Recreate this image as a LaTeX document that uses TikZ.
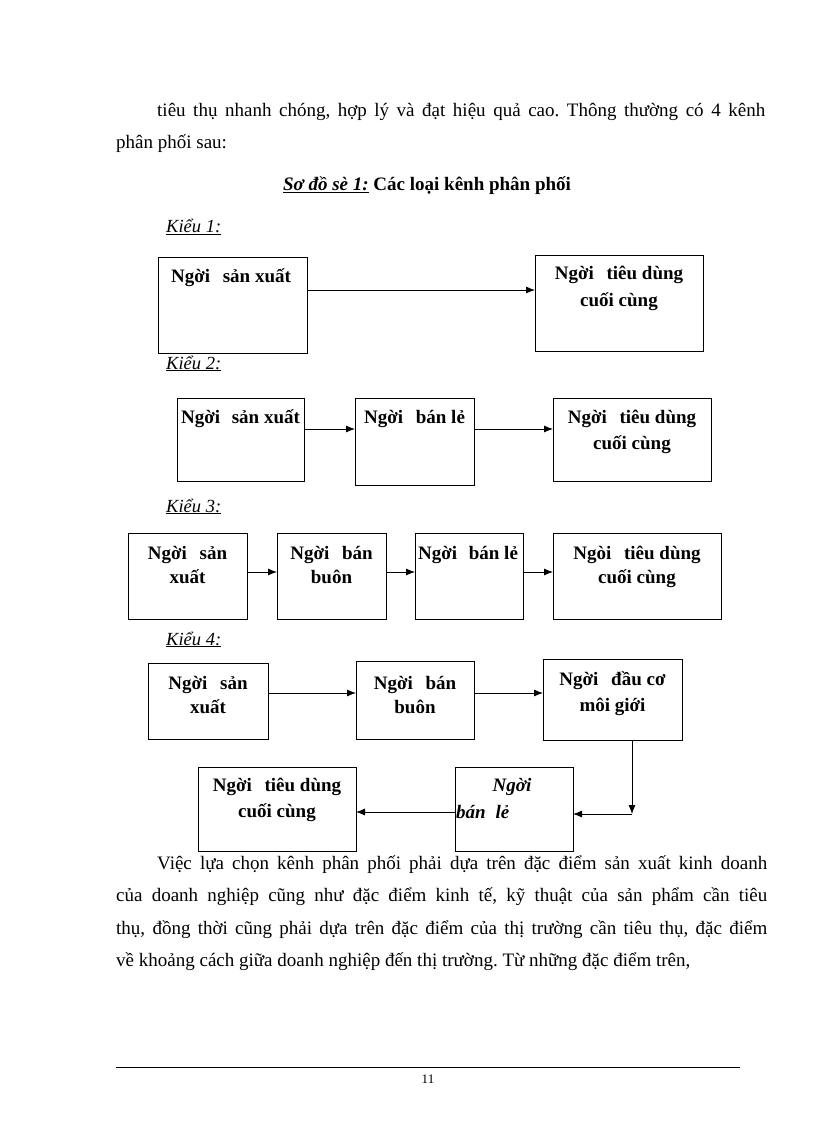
\documentclass[tikz,border=0pt]{standalone}
\usepackage{fontspec}
\setmainfont{Liberation Serif}
\usetikzlibrary{arrows.meta}
\frenchspacing
\begin{document}
\begin{tikzpicture}[x=1pt,y=-1pt,
  box/.style={draw, line width=1pt, inner sep=0pt, outer sep=0pt},
  arr/.style={line width=0.8pt, -{Latex[length=9pt,width=7pt]}},
  body/.style={font=\fontsize{19}{22}\selectfont, inner sep=0pt, anchor=base west},
  bt/.style={font=\fontsize{19}{22}\selectfont\bfseries, inner sep=0pt, anchor=base},
  kieu/.style={font=\fontsize{18.5}{20}\selectfont\itshape, inner sep=0pt, anchor=base west},
  ttl/.style={font=\fontsize{19}{22}\selectfont\bfseries, inner sep=0pt, anchor=base}
]
\useasboundingbox (0,0) rectangle (816,1123);

% top paragraph
\node[body] (p1) at (157,117) {\makebox[608pt][s]{tiêu thụ nhanh chóng, hợp lý và đạt hiệu quả cao. Thông thường có 4 kênh}};
\node[body] (p2) at (116,149) {phân phối sau:};

% title
\node[ttl] (title) at (427,191) {\underline{\textit{Sơ đồ sè 1:}} Các loại kênh phân phối};

% Kieu 1
\node[kieu] (k1) at (166,233) {\underline{Kiểu 1:}};
\node[box, minimum width=149pt, minimum height=96pt] (a1) at (232.5,305) {};
\node[box, minimum width=168pt, minimum height=96pt] (a2) at (619,303) {};
\node[bt] (a1t) at (231,282) {Ngời\hspace{8pt} sản xuất};
\node[bt] (a2t) at (619,279) {Ngời\hspace{8pt} tiêu dùng};
\node[bt] (a2u) at (619,306) {cuối cùng};
\draw[arr] ([yshift=15pt]a1.east) -- ([yshift=15pt]a1.east -| a2.west);

% Kieu 2
\node[kieu] (k2) at (166,369) {\underline{Kiểu 2:}};
\node[box, minimum width=127pt, minimum height=83pt] (b1) at (240.5,439.5) {};
\node[box, minimum width=119pt, minimum height=87pt] (b2) at (414.5,441.5) {};
\node[box, minimum width=158pt, minimum height=83pt] (b3) at (632,439.5) {};
\node[bt] (b1t) at (240.5,423) {Ngời\hspace{7pt} sản xuất};
\node[bt] (b2t) at (414.5,423) {Ngời\hspace{8pt} bán lẻ};
\node[bt] (b3t) at (632,423) {Ngời\hspace{8pt} tiêu dùng};
\node[bt] (b3u) at (632,449) {cuối cùng};
\draw[arr] ([yshift=10.5pt]b1.east) -- ([yshift=10.5pt]b1.east -| b2.west);
\draw[arr] ([yshift=10.5pt]b1.east -| b2.east) -- ([yshift=10.5pt]b1.east -| b3.west);

% Kieu 3
\node[kieu] (k3) at (166,512) {\underline{Kiểu 3:}};
\node[box, minimum width=119pt, minimum height=86pt] (c1) at (187.5,576) {};
\node[box, minimum width=109pt, minimum height=86pt] (c2) at (331.5,576) {};
\node[box, minimum width=108pt, minimum height=86pt] (c3) at (469,576) {};
\node[box, minimum width=168pt, minimum height=86pt] (c4) at (637,576) {};
\node[bt] (c1t) at (187.5,559) {Ngời\hspace{8pt} sản};
\node[bt] (c1u) at (187.5,583) {xuất};
\node[bt] (c2t) at (331.5,559) {Ngời\hspace{8pt} bán};
\node[bt] (c2u) at (331.5,583) {buôn};
\node[bt] (c3t) at (468,559) {Ngời\hspace{7pt} bán lẻ};
\node[bt] (c4t) at (637,559) {Ngòi\hspace{8pt} tiêu dùng};
\node[bt] (c4u) at (637,583) {cuối cùng};
\draw[arr] ([yshift=4pt]c1.east) -- ([yshift=4pt]c1.east -| c2.west);
\draw[arr] ([yshift=4pt]c2.east) -- ([yshift=4pt]c2.east -| c3.west);
\draw[arr] ([yshift=4pt]c3.east) -- ([yshift=4pt]c3.east -| c4.west);

% Kieu 4
\node[kieu] (k4) at (166,645) {\underline{Kiểu 4:}};
\node[box, minimum width=120pt, minimum height=76pt] (d1) at (208,701) {};
\node[box, minimum width=118pt, minimum height=78pt] (d2) at (415,700) {};
\node[box, minimum width=139pt, minimum height=81pt] (d3) at (612.5,699.5) {};
\node[box, minimum width=118pt, minimum height=84pt] (d4) at (514,809) {};
\node[box, minimum width=158pt, minimum height=84pt] (d5) at (277,809) {};
\node[bt] (d1t) at (208,689) {Ngời\hspace{8pt} sản};
\node[bt] (d1u) at (208,713) {xuất};
\node[bt] (d2t) at (415,689) {Ngời\hspace{8pt} bán};
\node[bt] (d2u) at (415,713) {buôn};
\node[bt] (d3t) at (612.5,685) {Ngời\hspace{8pt} đầu cơ};
\node[bt] (d3u) at (612.5,711) {môi giới};
\node[bt, font=\fontsize{19}{22}\selectfont\bfseries\itshape] (d4t) at (512,791) {Ngời};
\node[bt, anchor=base west, font=\fontsize{19}{22}\selectfont\bfseries\itshape] (d4u) at (456,818) {bán\hspace{5pt} lẻ};
\node[bt] (d5t) at (277,791) {Ngời\hspace{8pt} tiêu dùng};
\node[bt] (d5u) at (277,817) {cuối cùng};
\draw[arr] ([yshift=8pt]d1.east) -- ([yshift=8pt]d1.east -| d2.west);
\draw[arr] ([yshift=7pt]d2.east) -- ([yshift=7pt]d2.east -| d3.west);
\coordinate (turn) at (632,814);
\draw[arr] (d3.south -| turn) -- (turn);
\draw[arr] (turn) -- (turn -| d4.east);
\draw[arr] ([yshift=-3pt]d4.west) -- ([yshift=-3pt]d4.west -| d5.east);

% bottom paragraph
\node[body] (q1) at (157,869) {\makebox[610pt][s]{Việc lựa chọn kênh phân phối phải dựa trên đặc điểm sản xuất kinh doanh}};
\node[body] (q2) at (116,901) {\makebox[651pt][s]{của doanh nghiệp cũng như đặc điểm kinh tế, kỹ thuật của sản phẩm cần tiêu}};
\node[body] (q3) at (116,934) {\makebox[651pt][s]{thụ, đồng thời cũng phải dựa trên đặc điểm của thị trường cần tiêu thụ, đặc điểm}};
\node[body] (q4) at (116,966) {về khoảng cách giữa doanh nghiệp đến thị trường. Từ những đặc điểm trên,};

% footer
\coordinate (fl) at (116,1067);
\coordinate (fr) at (740,1067);
\draw[line width=0.8pt] (fl) -- (fr);
\node[font=\fontsize{13}{15}\selectfont, inner sep=0pt, anchor=base] (pg) at (428,1083) {11};
\end{tikzpicture}
\end{document}
